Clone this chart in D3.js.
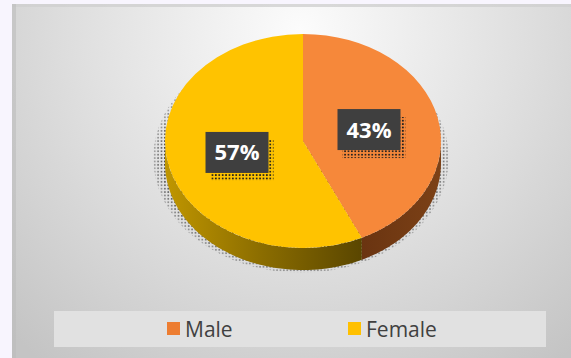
<!DOCTYPE html>
<html>
<head>
<meta charset="utf-8">
<script src="https://cdn.jsdelivr.net/npm/d3@7"></script>
<style>
  html, body { margin: 0; padding: 0; background: #f8f5fe; }
  svg { display: block; }
</style>
</head>
<body>
<svg id="chart" width="571" height="358"></svg>
<script>
// Gender split
const categories = ["Male", "Female"];
const values = [43, 57];
const labels = ["43%", "57%"];
const topColors = ["#f6883a", "#ffc300"];
const legendColors = ["#ed7d31", "#ffc000"];

const svg = d3.select("#chart");
const W = 571, H = 358;
const defs = svg.append("defs");

// Chart area background
const bg = defs.append("radialGradient").attr("id", "bgGrad")
  .attr("gradientUnits", "userSpaceOnUse")
  .attr("cx", 300).attr("cy", 30).attr("r", 420);
bg.append("stop").attr("offset", 0).attr("stop-color", "#fcfcfc");
bg.append("stop").attr("offset", 0.55).attr("stop-color", "#dedede");
bg.append("stop").attr("offset", 1).attr("stop-color", "#c4c4c4");

svg.append("rect").attr("x", 12).attr("y", 4).attr("width", W - 12).attr("height", H - 4)
  .attr("fill", "url(#bgGrad)");
svg.append("rect").attr("x", 12).attr("y", 4).attr("width", W - 12).attr("height", 3)
  .attr("fill", "#cfcfcf").attr("opacity", 0.8);
svg.append("rect").attr("x", 12).attr("y", 4).attr("width", 4).attr("height", H - 4)
  .attr("fill", "#bdbdbd").attr("opacity", 0.6);

// Pie geometry
const cx = 303, cy = 141, rx = 138, ry = 107, depth = 22;

const pie = d3.pie().sort(null).startAngle(0).endAngle(2 * Math.PI);
const arcs = pie(values);

// Dithered drop shadow
const dots = defs.append("pattern").attr("id", "dots")
  .attr("patternUnits", "userSpaceOnUse").attr("width", 3.4).attr("height", 3.4);
dots.append("rect").attr("x", 0.8).attr("y", 0.8).attr("width", 1.7).attr("height", 1.7)
  .attr("fill", "#1e1e1e");

const shFade = defs.append("radialGradient").attr("id", "shFade");
shFade.append("stop").attr("offset", 0.78).attr("stop-color", "#fff").attr("stop-opacity", 1);
shFade.append("stop").attr("offset", 0.92).attr("stop-color", "#fff").attr("stop-opacity", 0.8);
shFade.append("stop").attr("offset", 1).attr("stop-color", "#fff").attr("stop-opacity", 0.3);
const mask = defs.append("mask").attr("id", "shMask");
mask.append("ellipse").attr("cx", 301).attr("cy", 158).attr("rx", 148).attr("ry", 115)
  .attr("fill", "url(#shFade)");
svg.append("ellipse").attr("cx", 301).attr("cy", 158).attr("rx", 148).attr("ry", 115)
  .attr("fill", "url(#dots)").attr("mask", "url(#shMask)");

// Side walls (front half only)
const pt = (a, dy) => [cx + rx * Math.sin(a), cy - ry * Math.cos(a) + dy];
const sideGrads = [
  [["#6a3411", 0], ["#7c4116", 1]],
  [["#c09600", 0], ["#8a6c00", 0.5], ["#5a4600", 1]]
];
const sideX = [[362, 441], [165, 362]];
arcs.forEach((d, i) => {
  const g = defs.append("linearGradient").attr("id", "side" + i)
    .attr("gradientUnits", "userSpaceOnUse")
    .attr("x1", sideX[i][0]).attr("x2", sideX[i][1]).attr("y1", 0).attr("y2", 0);
  sideGrads[i].forEach(([c, o]) => g.append("stop").attr("offset", o).attr("stop-color", c));
  const s = Math.max(d.startAngle, Math.PI / 2);
  const e = Math.min(d.endAngle, 3 * Math.PI / 2);
  if (e <= s) return;
  const steps = 60;
  const angles = d3.range(steps + 1).map(k => s + (e - s) * k / steps);
  const top = angles.map(a => pt(a, 0));
  const bot = angles.slice().reverse().map(a => pt(a, depth));
  svg.append("path")
    .attr("d", d3.line()(top.concat(bot)) + "Z")
    .attr("fill", "url(#side" + i + ")");
});

// Top face
const arc = d3.arc().innerRadius(0).outerRadius(rx);
const topG = svg.append("g")
  .attr("transform", `translate(${cx},${cy}) scale(1,${ry / rx})`);
topG.selectAll("path").data(arcs).join("path")
  .attr("d", arc)
  .attr("fill", (d, i) => topColors[i]);

// Data labels
const lblArc = d3.arc().innerRadius(rx * 0.49).outerRadius(rx * 0.49);
const bw = 63, bh = 41;
arcs.forEach((d, i) => {
  const [x0, y0] = lblArc.centroid(d);
  const lx = cx + x0, ly = cy + y0 * ry / rx;
  svg.append("rect").attr("x", lx - bw / 2 + 5).attr("y", ly - bh / 2 + 8)
    .attr("width", bw).attr("height", bh).attr("fill", "url(#dots)");
  svg.append("rect").attr("x", lx - bw / 2).attr("y", ly - bh / 2)
    .attr("width", bw).attr("height", bh).attr("fill", "#3f3f3f");
  svg.append("text").attr("x", lx).attr("y", ly + 8)
    .attr("text-anchor", "middle")
    .attr("font-family", "'Open Sans', sans-serif").attr("font-weight", 700)
    .attr("font-size", 22).attr("fill", "#ffffff")
    .text(labels[i]);
});

// Legend
svg.append("rect").attr("x", 54).attr("y", 311).attr("width", 492).attr("height", 36)
  .attr("fill", "#e1e1e1");
const legendX = d3.scalePoint().domain(categories).range([167, 348]);
const item = svg.selectAll("g.legend").data(categories).join("g")
  .attr("class", "legend")
  .attr("transform", d => `translate(${legendX(d)},322)`);
item.append("rect").attr("width", 13).attr("height", 13)
  .attr("fill", (d, i) => legendColors[i]);
item.append("text").attr("x", 18).attr("y", 15)
  .attr("font-family", "'Open Sans', sans-serif").attr("font-size", 21)
  .attr("fill", "#404040")
  .text(d => d);
</script>
</body>
</html>
